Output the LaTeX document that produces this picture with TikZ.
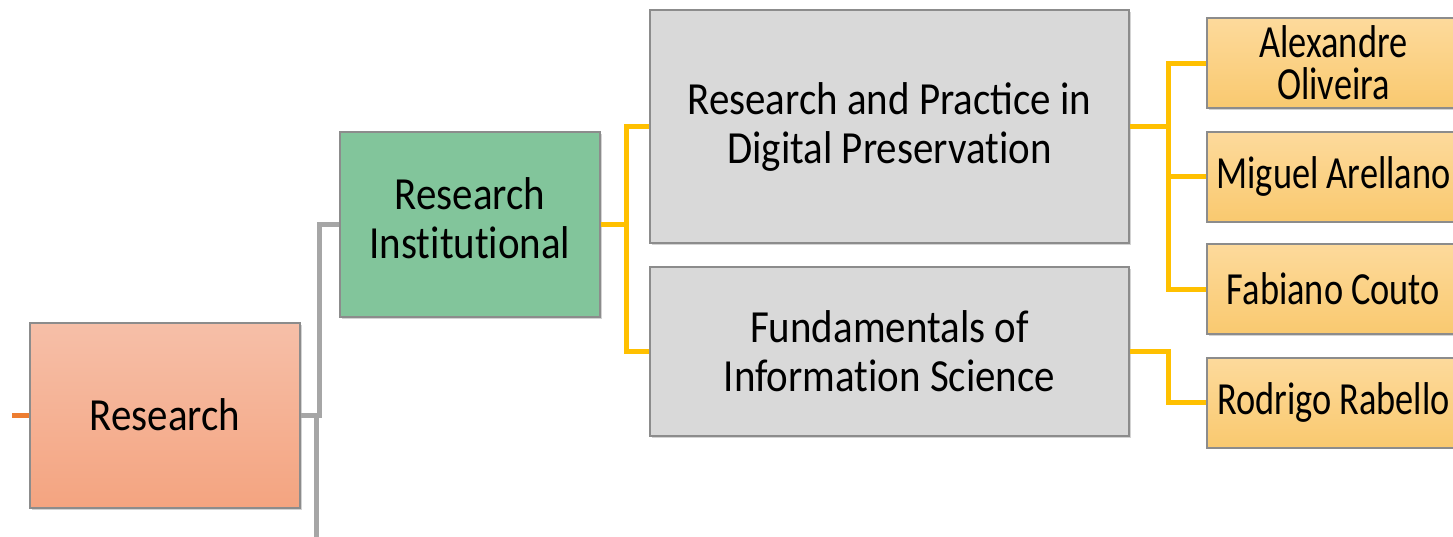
\documentclass[tikz,border=0pt]{standalone}
\usepackage{fontspec}
\setmainfont{Carlito}
\newfontfamily\mainf[FakeStretch=0.89]{Carlito}
\newfontfamily\namef[FakeStretch=0.79]{Carlito}
\newcommand{\tI}{t\kern0pt i}
\usetikzlibrary{shadows}
\definecolor{bordergray}{HTML}{8C8C8C}
\definecolor{resTop}{HTML}{F6BFA8}
\definecolor{resBot}{HTML}{F4A480}
\definecolor{greenfill}{HTML}{82C59B}
\definecolor{grayfill}{HTML}{D9D9D9}
\definecolor{nameTop}{HTML}{FDDA9C}
\definecolor{nameBot}{HTML}{F9C96F}
\definecolor{yelline}{HTML}{FFC000}
\definecolor{gryline}{HTML}{A6A6A6}
\definecolor{orgline}{HTML}{ED7D31}
\begin{document}
\begin{tikzpicture}[x=1pt,y=-1pt,
  box/.style={draw=bordergray, line width=2pt, inner sep=0pt, align=center,
    text=black, drop shadow={shadow xshift=1.5pt, shadow yshift=-1.5pt, opacity=0.35, fill=gray},
    font=\mainf\fontsize{46}{49}\selectfont},
  namebox/.style={box, top color=nameTop, bottom color=nameBot,
    minimum width=253pt, minimum height=90pt,
    font=\namef\fontsize{46}{42}\selectfont},
  yel/.style={draw=yelline, line width=5pt},
  gry/.style={draw=gryline, line width=5pt},
  org/.style={draw=orgline, line width=5pt}]
\useasboundingbox (0,0) rectangle (1453,536);
\clip (0,0) rectangle (1453,536);

\node[box, top color=resTop, bottom color=resBot, minimum width=270pt, minimum height=185pt] (res) at (165,415.5) {\raisebox{2pt}{Research}};
\node[box, fill=greenfill, minimum width=260pt, minimum height=185pt] (ri) at (470,224.5) {\raisebox{3pt}{\begin{tabular}{@{}c@{}}Research\\Ins\tI tu\tI onal\end{tabular}}};
\node[box, fill=grayfill, minimum width=479pt, minimum height=233pt] (g1) at (889.5,126.5) {Research and Practice in\\Digital Preserva\tI on};
\node[box, fill=grayfill, minimum width=479pt, minimum height=169pt] (g2) at (889.5,351.5) {Fundamentals of\\Informa\tI on Science};
\node[namebox] (n1) at (1333.5,63) {Alexandre\\Oliveira};
\node[namebox] (n2) at (1333.5,176.5) {Miguel Arellano};
\node[namebox] (n3) at (1333.5,289) {Fabiano Couto};
\node[namebox] (n4) at (1333.5,402.5) {Rodrigo Rabello};

\coordinate (o1) at (12,415.5);
\coordinate (k1) at (319,320);
\coordinate (k2) at (316,545);
\coordinate (j1) at (626,224.5);
\coordinate (j2) at (1168,126.5);
\coordinate (j3) at (1168,376);

\draw[org] (o1) -- (res.west);
\draw[gry] (res.east) -| (k1) |- (ri.west);
\draw[gry] (k2 |- res.east) -- (k2);
\draw[yel] (ri.east) -- (j1);
\draw[yel] (g1.west) -| (j1) |- (g2.west);
\draw[yel] (g1.east) -- (j2);
\draw[yel] (n1.west) -| (j2) |- (n3.west);
\draw[yel] (n2.west) -- (n2.west -| j2);
\draw[yel] (g2.east) -| (j3) |- (n4.west);
\end{tikzpicture}
\end{document}
